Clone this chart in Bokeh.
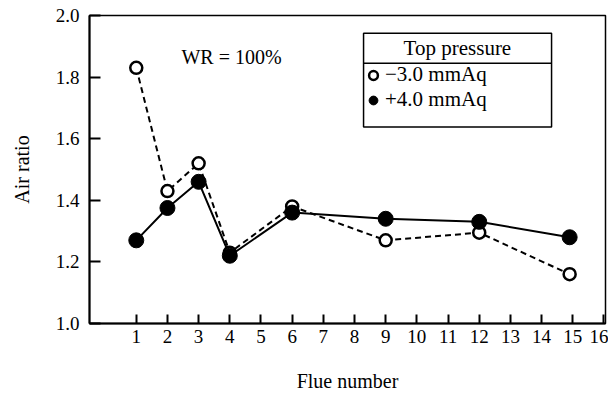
from bokeh.plotting import figure
from bokeh.models import Range1d, FixedTicker, Label, Legend, LegendItem, CustomJSTickFormatter
from bokeh.embed import file_html
from bokeh.resources import INLINE

flue = [1, 2, 3, 4, 6, 9, 12, 14.9]
neg_pressure = [1.83, 1.43, 1.52, 1.23, 1.38, 1.27, 1.295, 1.16]   # -3.0 mmAq (open)
pos_pressure = [1.27, 1.375, 1.46, 1.22, 1.36, 1.34, 1.33, 1.28]   # +4.0 mmAq (filled)
x_ticks = list(range(1, 17))
y_ticks = [1.0, 1.2, 1.4, 1.6, 1.8, 2.0]

SERIF = "Liberation Serif"
X0, X1 = -0.5, 16.05
Y0, Y1 = 1.0, 2.0

p = figure(width=608, height=394, output_backend="svg", toolbar_location=None,
           x_range=Range1d(X0, X1), y_range=Range1d(Y0, Y1),
           min_border_left=89, min_border_right=3, min_border_top=15, min_border_bottom=70)
p.xgrid.visible = False
p.ygrid.visible = False
p.outline_line_color = "black"
p.outline_line_width = 1.5
p.background_fill_color = "white"
p.border_fill_color = "white"

p.xaxis.ticker = FixedTicker(ticks=x_ticks)
p.yaxis.ticker = FixedTicker(ticks=y_ticks)
p.yaxis.formatter = CustomJSTickFormatter(code="return tick.toFixed(1);")
for ax in (p.xaxis[0], p.yaxis[0]):
    ax.axis_line_color = "black"
    ax.axis_line_width = 2
    ax.major_tick_line_color = "black"
    ax.major_tick_line_width = 2
    ax.major_tick_out = 0
    ax.minor_tick_line_color = None
    ax.major_label_text_font = SERIF
    ax.major_label_text_font_size = "19px"
    ax.major_label_text_color = "black"
    ax.axis_label_text_font = SERIF
    ax.axis_label_text_font_size = "20px"
    ax.axis_label_text_font_style = "normal"
    ax.axis_label_text_color = "black"
p.xaxis.major_tick_in = 9
p.yaxis.major_tick_in = 11
p.xaxis.major_label_standoff = 6
p.yaxis.major_label_standoff = 10
p.xaxis.axis_label = "Flue number"
p.yaxis.axis_label = "Air ratio"
p.xaxis.axis_label_standoff = 24
p.yaxis.axis_label_standoff = 20

p.line(flue, neg_pressure, line_color="black", line_width=2, line_dash="6 4")
p.line(flue, pos_pressure, line_color="black", line_width=2)
r_open = p.scatter(flue, neg_pressure, size=12, fill_color="white", line_color="black", line_width=2.5)
r_fill = p.scatter(flue, pos_pressure, size=15, fill_color="black", line_color="black")

p.add_layout(Label(x=2.45, y=1.865, text="WR = 100%", text_font=SERIF, text_font_size="20px",
                   text_baseline="middle", text_color="black"))

# legend frame with title row
p.quad(left=[8.29], right=[14.32], bottom=[1.638], top=[1.942],
       fill_color="white", line_color="black", line_width=1.5)
p.segment(x0=[8.29], y0=[1.845], x1=[14.32], y1=[1.845], line_color="black", line_width=1.5)
p.add_layout(Label(x=11.3, y=1.893, text="Top pressure", text_font=SERIF, text_font_size="21px",
                   text_align="center", text_baseline="middle", text_color="black"))

legend = Legend(items=[LegendItem(label="\u22123.0 mmAq", renderers=[r_open]),
                       LegendItem(label="+4.0 mmAq", renderers=[r_fill])],
                location=(273, 211),
                label_text_font=SERIF, label_text_font_size="21px", label_text_color="black",
                border_line_color=None, background_fill_alpha=0,
                glyph_width=22, glyph_height=22, label_standoff=1, padding=0, spacing=0, margin=0)
p.add_layout(legend, "center")

open("out.html", "w").write(file_html(p, INLINE))
